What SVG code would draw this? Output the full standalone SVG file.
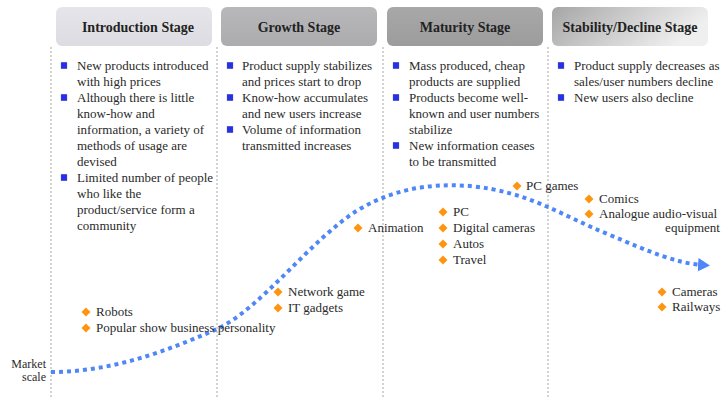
<svg xmlns="http://www.w3.org/2000/svg" width="724" height="398" viewBox="0 0 724 398">
  <style>
    .hdr-text { font-family: "Liberation Serif", "DejaVu Serif", serif; font-size: 14px; font-weight: bold; fill: #222; text-anchor: middle; }
    .txt { font-family: "Liberation Serif", "DejaVu Serif", serif; font-size: 13px; fill: #2a2a2a; }
    .small { font-size: 12px; }
    .bullet { fill: #2430f0; stroke: #1a1aa8; stroke-width: 0.6; }
    .dia { fill: #ff9410; }
    .divider { stroke: #a8a8a8; stroke-width: 1; stroke-dasharray: 2 2; fill: none; }
    .curve { stroke: #4f88f6; stroke-width: 4; stroke-dasharray: 4 4; fill: none; }
  </style>
  <defs>
    <linearGradient id="gIntro" x1="0" y1="0" x2="0" y2="1">
      <stop offset="0" stop-color="#e6e5ea"/>
      <stop offset="1" stop-color="#dddce2"/>
    </linearGradient>
    <linearGradient id="gGrowth" x1="0" y1="0" x2="0" y2="1">
      <stop offset="0" stop-color="#b8b8ba"/>
      <stop offset="1" stop-color="#acacae"/>
    </linearGradient>
    <linearGradient id="gMaturity" x1="0" y1="0" x2="0" y2="1">
      <stop offset="0" stop-color="#a8a8a8"/>
      <stop offset="1" stop-color="#9c9c9c"/>
    </linearGradient>
    <linearGradient id="gStability" x1="0" y1="0" x2="1" y2="0.3">
      <stop offset="0" stop-color="#a6a6a6"/>
      <stop offset="0.55" stop-color="#cfcfcf"/>
      <stop offset="1" stop-color="#efefef"/>
    </linearGradient>
    <marker id="arrow" markerWidth="4" markerHeight="4" refX="1" refY="2" orient="auto" markerUnits="strokeWidth">
      <path d="M0,0.3 L3,2 L0,3.7 Z" fill="#4f88f6"/>
    </marker>
    <path id="diamond" d="M0,-4.5 L4.5,0 L0,4.5 L-4.5,0 Z"/>
    <rect id="sq" x="-2.8" y="-2.8" width="5.6" height="5.6"/>
  </defs>

  <rect width="724" height="398" fill="#ffffff"/>

  <!-- stage dividers -->
  <g id="dividers">
    <line class="divider" x1="51" y1="47" x2="51" y2="398"/>
    <line class="divider" x1="217" y1="47" x2="217" y2="398"/>
    <line class="divider" x1="383" y1="47" x2="383" y2="398"/>
    <line class="divider" x1="548" y1="47" x2="548" y2="398"/>
  </g>

  <!-- stage headers -->
  <g id="stage-introduction">
    <rect x="56" y="7" width="156" height="39" rx="6" fill="url(#gIntro)"/>
    <text class="hdr-text" x="138" y="32">Introduction Stage</text>
  </g>
  <g id="stage-growth">
    <rect x="221" y="7" width="156" height="39" rx="6" fill="url(#gGrowth)"/>
    <text class="hdr-text" x="299" y="32">Growth Stage</text>
  </g>
  <g id="stage-maturity">
    <rect x="387" y="7" width="156" height="39" rx="6" fill="url(#gMaturity)"/>
    <text class="hdr-text" x="465" y="32">Maturity Stage</text>
  </g>
  <g id="stage-stability">
    <rect x="552" y="7" width="156" height="39" rx="6" fill="url(#gStability)"/>
    <text class="hdr-text" x="630" y="32">Stability/Decline Stage</text>
  </g>

  <!-- stage descriptions -->
  <g id="notes-introduction" class="txt">
    <use href="#sq" class="bullet" x="64" y="65.5"/>
    <use href="#sq" class="bullet" x="64" y="97.5"/>
    <use href="#sq" class="bullet" x="64" y="177.5"/>
    <text x="77" y="70">New products introduced</text>
    <text x="77" y="86">with high prices</text>
    <text x="77" y="102">Although there is little</text>
    <text x="77" y="118">know-how and</text>
    <text x="77" y="134">information, a variety of</text>
    <text x="77" y="150">methods of usage are</text>
    <text x="77" y="166">devised</text>
    <text x="77" y="182">Limited number of people</text>
    <text x="77" y="198">who like the</text>
    <text x="77" y="214">product/service form a</text>
    <text x="77" y="230">community</text>
  </g>
  <g id="notes-growth" class="txt">
    <use href="#sq" class="bullet" x="230" y="65.5"/>
    <use href="#sq" class="bullet" x="230" y="97.5"/>
    <use href="#sq" class="bullet" x="230" y="129.5"/>
    <text x="242" y="70">Product supply stabilizes</text>
    <text x="242" y="86">and prices start to drop</text>
    <text x="242" y="102">Know-how accumulates</text>
    <text x="242" y="118">and new users increase</text>
    <text x="242" y="134">Volume of information</text>
    <text x="242" y="150">transmitted increases</text>
  </g>
  <g id="notes-maturity" class="txt">
    <use href="#sq" class="bullet" x="396" y="65.5"/>
    <use href="#sq" class="bullet" x="396" y="97.5"/>
    <use href="#sq" class="bullet" x="396" y="145.5"/>
    <text x="409" y="70">Mass produced, cheap</text>
    <text x="409" y="86">products are supplied</text>
    <text x="409" y="102">Products become well-</text>
    <text x="409" y="118">known and user numbers</text>
    <text x="409" y="134">stabilize</text>
    <text x="409" y="150">New information ceases</text>
    <text x="409" y="166">to be transmitted</text>
  </g>
  <g id="notes-stability" class="txt">
    <use href="#sq" class="bullet" x="561" y="65.5"/>
    <use href="#sq" class="bullet" x="561" y="97.5"/>
    <text x="574" y="70">Product supply decreases as</text>
    <text x="574" y="86">sales/user numbers decline</text>
    <text x="574" y="102">New users also decline</text>
  </g>

  <!-- market scale curve -->
  <g id="connectors">
    <path class="curve" marker-end="url(#arrow)" d="M51,372 C110,372 165,352 217,329 C262,308 310,240 358,210 C400,185 440,184 470,186 C530,192 560,215 610,235 C650,252 676,263 702,265"/>
  </g>

  <g id="axis-label" class="txt small" text-anchor="end">
    <text x="46" y="368">Market</text>
    <text x="46" y="381">scale</text>
  </g>

  <!-- example markets along the curve -->
  <g id="items-introduction" class="txt">
    <use href="#diamond" class="dia" x="86" y="312"/>
    <use href="#diamond" class="dia" x="86" y="328"/>
    <text x="96" y="316">Robots</text>
    <text x="96" y="332">Popular show business personality</text>
  </g>
  <g id="items-growth" class="txt">
    <use href="#diamond" class="dia" x="278" y="292"/>
    <use href="#diamond" class="dia" x="278" y="308"/>
    <use href="#diamond" class="dia" x="358" y="228"/>
    <text x="288" y="296">Network game</text>
    <text x="288" y="312">IT gadgets</text>
    <text x="368" y="232">Animation</text>
  </g>
  <g id="items-maturity" class="txt">
    <use href="#diamond" class="dia" x="443" y="212"/>
    <use href="#diamond" class="dia" x="443" y="228"/>
    <use href="#diamond" class="dia" x="443" y="244"/>
    <use href="#diamond" class="dia" x="443" y="260"/>
    <use href="#diamond" class="dia" x="517" y="186"/>
    <text x="453" y="216">PC</text>
    <text x="453" y="232">Digital cameras</text>
    <text x="453" y="248">Autos</text>
    <text x="453" y="264">Travel</text>
    <text x="526" y="190">PC games</text>
  </g>
  <g id="items-stability" class="txt">
    <use href="#diamond" class="dia" x="589" y="199"/>
    <use href="#diamond" class="dia" x="589" y="214"/>
    <use href="#diamond" class="dia" x="662" y="292"/>
    <use href="#diamond" class="dia" x="662" y="307"/>
    <text x="599" y="203">Comics</text>
    <text x="599" y="218">Analogue audio-visual</text>
    <text x="720" y="231.5" text-anchor="end">equipment</text>
    <text x="672" y="296">Cameras</text>
    <text x="672" y="311">Railways</text>
  </g>
</svg>
